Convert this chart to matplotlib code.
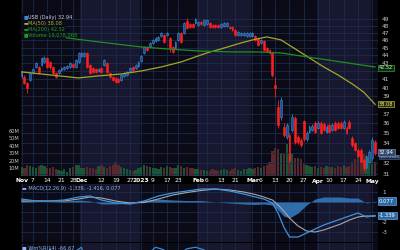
import matplotlib
matplotlib.use("Agg")
import matplotlib.pyplot as plt
from matplotlib.patches import Rectangle
from matplotlib.ticker import NullLocator, NullFormatter
import numpy as np

# daily candles, Nov 1 2022 .. May 2 2023 (trading days)
opens = [41.41, 41.29, 40.56, 40.92, 41.78, 42.52, 42.52, 42.78, 43.16, 43.67,
         43.16, 42.52, 41.78, 41.78, 42.15, 42.27, 42.40, 42.52, 42.90, 42.52,
         43.16, 43.93, 43.93, 44.32, 42.78, 42.40, 42.27, 42.02, 42.40, 42.78,
         43.03, 41.78, 41.29, 41.16, 41.04, 40.92, 41.41, 41.53, 42.02, 42.52,
         42.40, 42.65, 43.28, 44.32, 45.11, 45.25, 45.65, 45.92, 46.06, 46.61,
         46.74, 46.74, 46.33, 45.11, 44.98, 46.06, 47.02, 47.02, 48.71, 48.28,
         48.28, 48.42, 48.14, 48.57, 48.14, 48.28, 48.42, 48.14, 48.14, 48.14,
         47.86, 48.00, 48.00, 47.86, 47.86, 47.44, 46.74, 46.74, 46.74, 46.61,
         46.61, 46.61, 46.61, 46.33, 45.65, 45.92, 44.98, 44.72, 44.32, 40.32,
         37.79, 36.69, 35.63, 34.60, 34.80, 35.32, 36.58, 34.60, 34.29, 36.26,
         34.39, 35.11, 35.32, 36.05, 35.53, 36.05, 35.95, 35.11, 35.84, 35.32,
         36.05, 36.05, 36.05, 35.53, 35.53, 36.16, 34.49, 33.99, 33.30, 33.30,
         32.33, 31.66, 32.14, 32.52, 34.09]
closes = [41.90, 40.56, 39.97, 41.78, 42.27, 43.03, 41.90, 43.67, 43.67, 42.52,
          42.52, 41.78, 41.29, 42.15, 42.40, 42.52, 42.65, 43.03, 42.52, 43.41,
          44.32, 44.32, 44.32, 42.52, 41.78, 41.90, 41.90, 42.27, 41.90, 43.41,
          41.90, 41.29, 40.92, 40.68, 40.68, 41.53, 41.78, 41.90, 42.40, 42.15,
          42.78, 43.16, 43.93, 45.11, 44.72, 45.65, 46.06, 46.33, 46.47, 47.02,
          45.79, 47.02, 44.98, 44.45, 45.79, 47.02, 45.79, 48.42, 47.72, 47.86,
          47.86, 49.00, 48.57, 48.28, 48.86, 48.86, 47.86, 47.86, 47.86, 47.86,
          48.28, 48.42, 48.42, 47.72, 47.44, 46.74, 47.16, 47.02, 47.02, 47.02,
          47.02, 47.02, 46.06, 45.38, 46.06, 44.72, 44.58, 44.32, 41.53, 39.97,
          35.84, 38.57, 34.80, 35.84, 32.33, 36.69, 34.09, 34.09, 33.79, 34.39,
          35.01, 35.63, 35.74, 35.11, 36.05, 35.01, 35.32, 35.63, 35.11, 35.84,
          35.32, 35.53, 35.53, 36.16, 35.01, 35.53, 33.79, 33.30, 32.71, 32.14,
          31.57, 32.61, 33.10, 34.29, 32.94]
highs = [42.0, 41.5, 40.7, 41.9, 42.4, 43.2, 42.7, 43.8, 43.9, 43.8,
         43.3, 42.6, 41.9, 42.3, 42.5, 42.6, 42.8, 43.2, 43.0, 43.5,
         44.5, 44.5, 44.5, 44.4, 42.9, 42.5, 42.4, 42.4, 42.5, 43.5,
         43.1, 41.9, 41.4, 41.3, 41.1, 41.6, 41.9, 42.0, 42.5, 42.6,
         42.9, 43.3, 44.0, 45.2, 45.3, 45.8, 46.2, 46.4, 46.6, 47.2,
         46.9, 47.2, 46.5, 45.2, 45.9, 47.1, 47.2, 48.5, 49.1, 48.4,
         48.4, 49.1, 48.7, 48.7, 49.0, 49.0, 48.6, 48.3, 48.3, 48.3,
         48.4, 48.6, 48.6, 48.0, 48.0, 47.6, 47.3, 47.2, 47.2, 47.2,
         47.2, 47.2, 46.8, 46.5, 46.2, 46.1, 45.1, 44.9, 44.5, 41.3,
         38.6, 38.9, 36.0, 36.0, 35.0, 37.0, 36.8, 34.8, 34.5, 36.4,
         35.2, 35.8, 35.9, 36.2, 36.2, 36.2, 36.1, 35.8, 36.0, 36.0,
         36.2, 36.2, 36.2, 36.4, 35.7, 36.3, 34.7, 34.1, 33.5, 33.5,
         32.5, 32.8, 33.3, 34.6, 34.3]
lows = [41.2, 40.4, 39.4, 40.8, 41.6, 42.4, 41.7, 42.6, 43.0, 42.4,
        42.3, 41.6, 41.1, 41.6, 42.0, 42.1, 42.3, 42.4, 42.4, 42.4,
        43.0, 43.8, 43.8, 42.4, 41.6, 41.8, 41.8, 41.9, 41.8, 42.6,
        41.8, 41.1, 40.8, 40.5, 40.5, 40.8, 41.3, 41.4, 41.9, 42.0,
        42.3, 42.5, 43.2, 44.2, 44.6, 45.1, 45.5, 45.8, 45.9, 46.5,
        45.6, 46.6, 44.4, 44.3, 44.8, 45.9, 45.6, 46.9, 47.6, 47.7,
        47.7, 48.3, 48.0, 48.1, 48.0, 48.1, 47.7, 47.7, 47.7, 47.7,
        47.7, 47.9, 47.9, 47.6, 47.3, 46.6, 46.6, 46.6, 46.6, 46.5,
        46.5, 46.5, 45.9, 45.2, 45.5, 44.6, 44.4, 44.2, 41.3, 38.9,
        35.5, 36.3, 34.6, 34.4, 32.0, 35.1, 33.9, 33.9, 33.6, 34.2,
        34.2, 35.0, 35.2, 35.0, 35.4, 34.9, 35.2, 35.0, 35.0, 35.2,
        35.2, 35.4, 35.4, 35.4, 34.9, 35.4, 33.6, 33.2, 32.6, 32.0,
        31.3, 31.4, 32.0, 32.4, 32.8]
volume_m = [12, 11, 14, 13, 12, 11, 13, 14, 13, 10, 11, 12, 9, 8, 7, 9, 5, 10, 12, 14, 15,
            11, 10, 12, 11, 10, 9, 13, 15, 12, 11, 13, 14, 18, 14, 12, 11, 9, 8, 7, 8, 10,
            12, 15, 13, 12, 11, 10, 9, 12, 11, 13, 12, 10, 11, 14, 13, 10, 12, 11, 10, 9,
            9, 8, 8, 7, 7, 9, 8, 7, 8, 9, 8, 7, 9, 10, 8, 7, 9, 9, 10,
            9, 10, 12, 11, 13, 15, 19, 33, 37, 36, 30, 30, 42, 30, 29, 24, 24, 22, 17, 15, 13, 12, 13,
            11, 12, 11, 13, 12, 12, 11, 13, 12, 14, 12, 13, 18, 23, 33, 30, 29, 27, 24, 22, 19.08]

ma50_idx = [0, 10, 20, 27, 35, 42, 49, 56, 65, 70, 77, 81, 86, 91, 96, 101, 106, 111, 116, 120, 124]
ma50_val = [41.90, 41.53, 41.16, 41.41, 41.65, 42.02, 42.52, 43.16, 44.32, 44.85, 45.65,
            46.06, 46.47, 46.06, 44.85, 43.67, 42.52, 41.53, 40.44, 39.48, 38.08]
ma200_idx = [0, 16, 27, 42, 51, 62, 74, 83, 91, 98, 105, 112, 119, 124]
ma200_val = [47.02, 46.33, 45.79, 45.11, 44.85, 44.58, 44.45, 44.45, 44.32, 43.93,
             43.54, 43.16, 42.78, 42.52]

macd_idx = [0, 5, 10, 15, 20, 24, 28, 33, 38, 43, 48, 53, 58, 63, 68, 73, 78, 82, 85,
            88, 90, 92, 94, 97, 100, 103, 106, 109, 112, 115, 118, 121, 124]
macd_line = [0.3, 0.1, 0.1, 0.2, 0.5, 0.6, 0.2, -0.1, -0.2, 0.1, 0.6, 0.9, 1.1, 1.3, 1.3,
             1.1, 0.8, 0.5, 0.3, -0.1, -1.1, -2.5, -3.5, -3.5, -3.1, -2.7, -2.3, -2.0,
             -1.7, -1.4, -1.1, -1.5, -1.339]
macd_signal = [0.1, 0.1, 0.1, 0.1, 0.3, 0.5, 0.4, 0.1, -0.1, -0.05, 0.3, 0.7, 0.95, 1.15,
               1.3, 1.2, 1.0, 0.75, 0.5, 0.2, -0.3, -0.9, -1.6, -2.4, -2.9, -3.0, -2.8,
               -2.5, -2.2, -1.8, -1.5, -1.4, -1.416]
macd_hist = [0.2, 0.0, 0.0, 0.1, 0.2, 0.1, -0.2, -0.2, -0.1, 0.15, 0.3, 0.2, 0.15, 0.15,
             0.0, -0.1, -0.2, -0.25, -0.2, -0.3, -0.8, -1.4, -1.6, -1.1, -0.3, 0.3, 0.5,
             0.5, 0.5, 0.4, 0.4, -0.1, 0.077]

wr_idx = [0, 3, 5, 8, 10, 13, 17, 21, 24, 28, 30, 33, 36, 40, 44, 47, 50, 52, 55, 58,
          61, 64, 67, 70, 73, 76, 80, 84, 88, 92, 96, 100, 104, 108, 112, 116, 120, 124]
wr_val = [-40, -10, -15, -35, -8, -50, -20, -5, -60, -50, -30, -80, -60, -30, -20, -5,
          -10, -40, -20, -8, -5, -10, -25, -30, -40, -50, -45, -50, -90, -95, -60, -55,
          -35, -40, -40, -75, -95, -66.67]

tick_idx = [0, 4, 9, 14, 18, 21, 28, 33, 38, 42, 46, 51, 55, 62, 65, 70, 75,
            81, 84, 89, 94, 99, 104, 108, 113, 118, 123]
tick_labels = ['Nov', '7', '14', '21', '28', 'Dec', '12', '19', '27', '2023', '9', '17', '23',
               'Feb', '6', '13', '21', 'Mar', '6', '13', '20', '27', 'Apr', '10', '17', '24', 'May']
month_bands = [(20.5, 41.5), (61.5, 80.5), (103.5, 122.5)]
price_ticks = list(range(31, 50))
hidden_price_labels = [33, 38, 42]
vol_ticks = [10, 20, 30, 40, 50, 60]

BG = '#0b0b18'
BAND = '#17172f'
GRID = '#1b2b4b'
UP = '#3b86d4'
DOWN = '#ff1f1f'
TXT = '#c8c8c8'

fig = plt.figure(figsize=(4, 2.5), dpi=100, facecolor='black')
L, W = 21 / 400, 357 / 400


def px_rect(top, bottom):
    return [L, 1 - bottom / 250, W, (bottom - top) / 250]


ax_v = fig.add_axes(px_rect(0, 176))
ax_p = fig.add_axes(px_rect(0, 176), sharex=ax_v)
ax_m = fig.add_axes(px_rect(184, 242), sharex=ax_v)
ax_w = fig.add_axes(px_rect(243, 300), sharex=ax_v)

x = np.arange(len(closes))
o = np.array(opens)
c = np.array(closes)
up = c >= o

for a in (ax_v, ax_m, ax_w):
    a.set_facecolor(BG)
    for b0, b1 in month_bands:
        a.axvspan(b0, b1, color=BAND, zorder=0.1, lw=0)
ax_p.set_facecolor('none')
for a in (ax_v, ax_p, ax_m, ax_w):
    for s in a.spines.values():
        s.set_visible(False)
    a.tick_params(length=0)
ax_v.set_xlim(-0.2, 125.05)

# volume
vol_col = ['#1b5538' if u else '#57292f' for u in up]
ax_v.bar(x, volume_m, width=0.8, color=vol_col, zorder=2)
ax_v.set_ylim(0, 233)
ax_v.set_yticks(vol_ticks)
ax_v.set_yticklabels([f'{v}M' for v in vol_ticks], fontsize=3.6, color=TXT)
ax_v.tick_params(axis='y', pad=1)
ax_v.set_xticks(tick_idx)
ax_v.set_xticklabels(tick_labels, fontsize=4.3, color='white')
ax_v.tick_params(axis='x', pad=1.8)
for t in ax_v.get_xticklabels():
    if not t.get_text().isdigit() or t.get_text() == '2023':
        t.set_fontweight('bold')
ax_v.grid(axis='x', color=GRID, lw=0.6, zorder=0.5)

# price
ax_p.set_yscale('log')
ax_p.set_ylim(30.8, 51.83)
ax_p.yaxis.tick_right()
ax_p.set_yticks(price_ticks)
ax_p.set_yticklabels(['' if p in hidden_price_labels else str(p) for p in price_ticks],
                     fontsize=4.2, color=TXT)
ax_p.yaxis.set_minor_locator(NullLocator())
ax_p.yaxis.set_minor_formatter(NullFormatter())
ax_p.tick_params(axis='y', pad=3)
ax_p.tick_params(axis='x', labelbottom=False)
ax_p.grid(axis='y', color=GRID, lw=0.6)

ccol = [UP if u else DOWN for u in up]
ax_p.vlines(x, lows, highs, color=ccol, lw=0.6, zorder=3)
ax_p.bar(x, np.abs(c - o), bottom=np.minimum(o, c), width=0.65,
         color=['#1d4f86' if u else DOWN for u in up], edgecolor=ccol, lw=0.4, zorder=4)
ax_p.plot(ma50_idx, ma50_val, color='#a6a625', lw=0.9, zorder=5)
ax_p.plot(ma200_idx, ma200_val, color='#1f8f1f', lw=0.9, zorder=5)

yt = ax_p.get_yaxis_transform()
ax_p.text(1.003, 42.40, '42.52', transform=yt, fontsize=3.6, color='#d8f0d8', va='center', ha='left',
          bbox=dict(boxstyle='square,pad=0.15', fc='#0d2a0d', ec='#2b8a2b', lw=0.6))
ax_p.text(1.003, 38.08, '38.08', transform=yt, fontsize=3.6, color='#ececc0', va='center', ha='left',
          bbox=dict(boxstyle='square,pad=0.15', fc='#2a2a08', ec='#9a9a20', lw=0.6))
ax_p.text(1.003, 32.58, '19078068', transform=yt, fontsize=2.8, color='#c0c8d8', va='center', ha='left',
          bbox=dict(boxstyle='square,pad=0.12', fc='#1c2a44', ec='#4a6a9a', lw=0.4))
ax_p.text(1.003, 33.0, '32.94', transform=yt, fontsize=3.8, color='white', va='center', ha='left',
          bbox=dict(boxstyle='square,pad=0.2', fc='#33496e', ec='#6a8ac0', lw=0.5))

# legend of the price panel
fig.patches.append(Rectangle((21 / 400, 1 - 39 / 250), 45 / 400, 26 / 250,
                             transform=fig.transFigure, fc=BG, ec='none', alpha=0.85, zorder=6))
leg = [('■', UP, 'USB (Daily) 32.94', '#c8d0e0'),
       ('▬', '#b0b030', 'MA(50) 38.08', '#b0b030'),
       ('▬', '#1f9f1f', 'MA(200) 42.52', '#1f9f1f'),
       ('■', '#1f9f1f', 'Volume 19,078,068', '#1f9f1f')]
for k, (sym, sc, label, tc) in enumerate(leg):
    yy = 1 - (17 + 6 * k) / 250
    fig.text(23.5 / 400, yy, sym, fontsize=3.4, color=sc, va='center', ha='left', zorder=7)
    fig.text(28 / 400, yy, label, fontsize=3.6, color=tc, va='center', ha='left', zorder=7)

# MACD
ax_m.fill_between(macd_idx, 0, macd_hist, color='#2f6dab', lw=0, zorder=2)
ax_m.plot(macd_idx, macd_signal, color='#a8a8a8', lw=0.8, zorder=3)
ax_m.plot(macd_idx, macd_line, color='#3d93e0', lw=0.9, zorder=4)
ax_m.set_ylim(-4.0, 1.8)
ax_m.yaxis.tick_right()
ax_m.set_yticks([1, 0, -1, -2, -3])
ax_m.set_yticklabels(['1', '', '', '-2', '-3'], fontsize=4.2, color=TXT)
ax_m.tick_params(axis='y', pad=3)
ax_m.tick_params(axis='x', labelbottom=False)
ax_m.grid(color=GRID, lw=0.6, zorder=0.5)
mt = ax_m.get_yaxis_transform()
for val in (0.077, -1.339):
    ax_m.text(1.003, val, f'{val:g}', transform=mt, fontsize=3.8, color='white', va='center', ha='left',
              bbox=dict(boxstyle='square,pad=0.25', fc='#2d6aa5', ec='#6aa0d8', lw=0.5))
ax_m.text(0.004, 0.93, '▬ MACD(12,26,9) -1.339, -1.416, 0.077', transform=ax_m.transAxes,
          fontsize=3.6, color='#8fb8e8', va='center', ha='left', zorder=6)

# Williams %R
ax_w.plot(wr_idx, wr_val, color=UP, lw=0.9, zorder=3)
ax_w.set_ylim(-105, 3)
ax_w.set_yticks([-20, -50, -80])
ax_w.tick_params(axis='both', labelleft=False, labelbottom=False)
ax_w.grid(color=GRID, lw=0.6, zorder=0.5)
ax_w.text(0.004, 0.9, '■ Wm%R(14) -66.67', transform=ax_w.transAxes,
          fontsize=3.6, color='#8fb8e8', va='center', ha='left', zorder=6)

fig.savefig('out.png', dpi=100, facecolor='black')
